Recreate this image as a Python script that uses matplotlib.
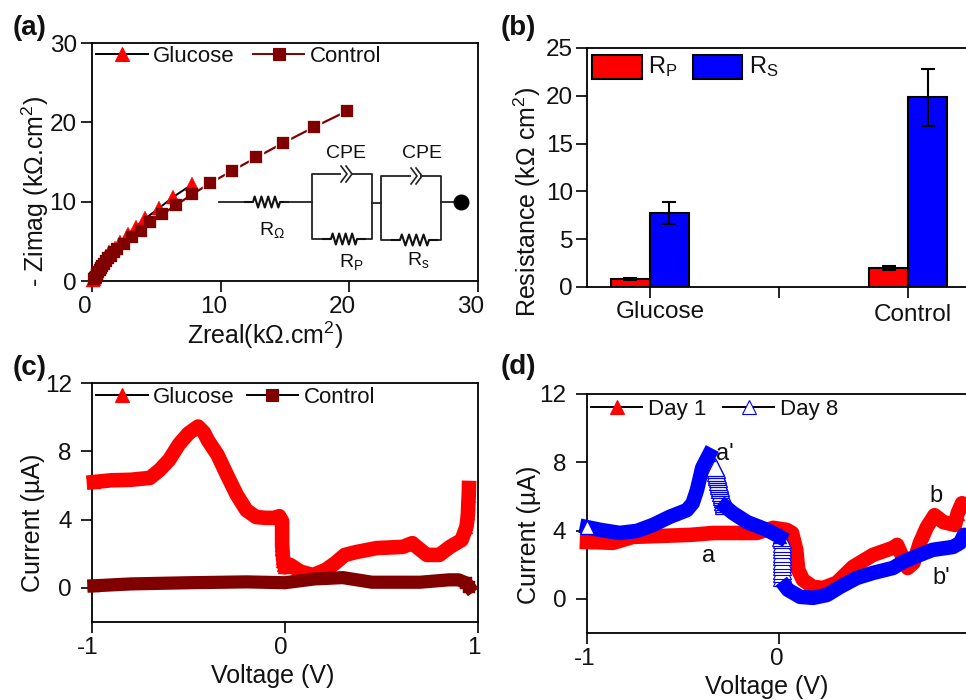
import matplotlib
matplotlib.use('Agg')
import matplotlib.pyplot as plt
from matplotlib.lines import Line2D
from matplotlib.patches import Rectangle
from matplotlib.transforms import Affine2D, ScaledTranslation

plt.rcParams['font.family'] = ['Liberation Sans', 'DejaVu Sans']
plt.rcParams['mathtext.fontset'] = 'custom'
plt.rcParams['mathtext.rm'] = 'Liberation Sans'
plt.rcParams['mathtext.default'] = 'regular'
plt.rcParams['axes.unicode_minus'] = False

# (a) impedance
a_glucose_x = [7.77, 6.32, 5.18, 4.15, 3.39, 2.8, 2.2, 1.76, 1.3, 1.05, 0.85, 0.7, 0.55, 0.42, 0.32, 0.22, 0.12, 0.05]
a_glucose_y = [12.17, 10.6, 9.15, 7.89, 6.84, 5.87, 4.95, 4.1, 3.6, 3.1, 2.6, 2.15, 1.75, 1.35, 0.95, 0.55, 0.25, 0.1]
a_control_x = [19.84, 17.25, 14.87, 12.77, 10.88, 9.2, 7.77, 6.53, 5.44, 4.53, 3.78, 3.08, 2.46, 1.94, 1.7, 1.45, 1.25,
               1.08, 0.9, 0.8, 0.7, 0.6, 0.5, 0.42, 0.35, 0.28, 0.22, 0.17]
a_control_y = [21.44, 19.39, 17.41, 15.57, 13.89, 12.34, 10.91, 9.57, 8.39, 7.39, 6.34, 5.54, 4.7, 4.03, 3.6, 3.2, 2.85,
               2.5, 2.15, 1.85, 1.6, 1.35, 1.1, 0.9, 0.7, 0.5, 0.4, 0.3]

# (b) resistance
b_groups = ['Glucose', 'Control']
b_rp = [0.8, 1.95]
b_rp_err = [0.1, 0.2]
b_rs = [7.7, 19.85]
b_rs_err = [1.15, 3.0]

# (c) CV
c_glucose_v = [-0.99, -0.9, -0.8, -0.7, -0.65, -0.6, -0.55, -0.5, -0.45, -0.42, -0.4, -0.35, -0.3, -0.25, -0.2, -0.15,
               -0.1, -0.05, -0.03, -0.015, -0.015, -0.015, -0.015, -0.015, -0.015, -0.013, -0.012, -0.01, -0.008, -0.005,
               -0.002, 0.026, 0.08, 0.145, 0.21, 0.26, 0.31, 0.37, 0.475, 0.61, 0.66, 0.69, 0.735, 0.80, 0.855, 0.915,
               0.94, 0.945, 0.948, 0.95, 0.952, 0.953]
c_glucose_i = [6.2, 6.3, 6.33, 6.44, 6.9, 7.5, 8.4, 9.05, 9.45, 9.1, 8.65, 7.8, 6.6, 5.45, 4.55, 4.15,
               4.1, 4.1, 4.2, 3.9, 3.6, 3.3, 3.0, 2.75, 2.5, 2.25, 2.0, 1.75, 1.55, 1.35,
               1.2, 1.35, 0.95, 0.75, 1.05, 1.45, 1.93, 2.1, 2.33, 2.4, 2.62, 2.33, 1.93, 1.93, 2.4, 2.8,
               3.57, 4.0, 4.4, 4.97, 5.4, 5.85]
c_control_v = [-0.99, -0.8, -0.5, -0.2, 0.0, 0.15, 0.3, 0.45, 0.7, 0.85, 0.9, 0.94, 0.955]
c_control_i = [0.12, 0.23, 0.3, 0.35, 0.3, 0.52, 0.6, 0.33, 0.33, 0.47, 0.47, 0.28, 0.05]

# (d) CV day 1 / day 8
d_day1_v = [-1.0, -0.865, -0.76, -0.604, -0.46, -0.34, -0.22, -0.115, -0.03, 0.04, 0.068, 0.09, 0.1, 0.125, 0.177, 0.23,
            0.30, 0.385, 0.49, 0.594, 0.615, 0.646, 0.67, 0.70, 0.734, 0.77, 0.81, 0.855, 0.917, 0.93, 0.953, 0.97]
d_day1_i = [3.34, 3.28, 3.63, 3.69, 3.75, 3.86, 3.86, 3.86, 4.16, 4.04, 3.86, 2.87, 1.7, 1.11, 0.7, 0.64,
            0.94, 1.87, 2.58, 2.99, 3.16, 2.4, 1.81, 2.1, 3.28, 4.2, 4.9, 4.5, 4.33, 5.0, 5.6, 5.5]
d_day8_up_v = [-1.0, -0.93, -0.83, -0.74, -0.656, -0.57, -0.48, -0.45, -0.427, -0.40, -0.365]
d_day8_up_i = [4.2, 4.04, 3.86, 3.98, 4.33, 4.8, 5.2, 5.6, 6.38, 7.67, 8.43]
d_day8_peak_v = [-0.285, -0.288, -0.291, -0.294, -0.297, -0.299, -0.302, -0.305, -0.308, -0.31, -0.313, -0.316,
                 -0.319, -0.321, -0.324, -0.327, -0.33, -0.333]
d_day8_peak_i = [5.5, 5.63, 5.76, 5.89, 6.02, 6.15, 6.28, 6.41, 6.54, 6.67, 6.8, 6.93, 7.06, 7.19, 7.32, 7.45, 7.58, 7.7]
d_day8_mid_v = [-0.28, -0.24, -0.167, -0.0625, 0.005]
d_day8_mid_i = [5.4, 5.03, 4.5, 4.04, 3.63]
d_day8_stack_v = [0.016, 0.016, 0.016, 0.016, 0.016, 0.016, 0.016, 0.016, 0.016, 0.016, 0.016, 0.016, 0.012]
d_day8_stack_i = [1.3, 1.5, 1.7, 1.9, 2.1, 2.3, 2.5, 2.7, 2.9, 3.1, 3.3, 3.5, 3.65]
d_day8_low_v = [0.035, 0.047, 0.11, 0.177, 0.25, 0.318, 0.406, 0.49, 0.594, 0.646, 0.734, 0.80, 0.906, 0.943, 0.964, 0.98]
d_day8_low_i = [0.7, 0.53, 0.12, 0.06, 0.23, 0.7, 1.23, 1.52, 1.81, 2.17, 2.58, 2.87, 3.04, 3.28, 3.75, 3.6]

RED = '#ff0000'
BLUE = '#0000ff'
DARK = '#800000'
INK = '#111111'

W, H = 966, 700
fig = plt.figure(figsize=(W / 100, H / 100), dpi=100)
pix = Affine2D().scale(1 / W, -1 / H).translate(0, 1) + fig.transFigure


def make_axes(left, right, top, bottom, ylabel_xy, xlabel_xy, ylabel, xlabel, ypad, xshift, fs=18, tick_fs=17.5):
    ax = fig.add_axes([left / W, 1 - bottom / H, (right - left) / W, (bottom - top) / H])
    ax.tick_params(length=8, width=1.2, labelsize=tick_fs, labelcolor=INK)
    ax.tick_params(axis='y', pad=ypad)
    ax.tick_params(axis='x', pad=3)
    for s in ax.spines.values():
        s.set_linewidth(1.3)
    ax.set_ylabel(ylabel, fontsize=fs, color=INK, va='center', ha='center')
    ax.yaxis.set_label_coords(*ylabel_xy, transform=pix)
    if xlabel:
        ax.set_xlabel(xlabel, fontsize=fs, color=INK, va='center', ha='center')
        ax.xaxis.set_label_coords(*xlabel_xy, transform=pix)
    ax._xshift = xshift
    return ax


def shift_xlabels(ax):
    # tick labels sit a bit left of their ticks in the figure
    off = ScaledTranslation(ax._xshift / 100, 0, fig.dpi_scale_trans)
    for lab in ax.get_xticklabels():
        lab.set_transform(lab.get_transform() + off)


def fig_line(xs, ys, lw=1.3, color='#222222', **kw):
    fig.add_artist(Line2D(xs, ys, transform=pix, lw=lw, color=color, **kw))


def legend_item(x0, x1, y, mx, marker, ms, mfc, mec, linecolor, label, tx):
    fig_line([x0, x1], [y, y], lw=1.4, color=linecolor)
    fig_line([mx], [y], marker=marker, ms=ms, mfc=mfc, mec=mec, mew=0.8, ls='none')
    fig.text(tx, y, label, transform=pix, fontsize=16, color=INK, va='center_baseline', ha='left')


def resistor(x0, x1, y, n=4, amp=5.5):
    # zigzag symbol for the circuit drawing
    step = (x1 - x0 - 16) / (2 * n)
    xs = [x0, x0 + 8]
    ys = [y, y]
    for k in range(2 * n):
        xs.append(x0 + 8 + step * (k + 0.5))
        ys.append(y - amp if k % 2 == 0 else y + amp)
    xs += [x1 - 8, x1]
    ys += [y, y]
    fig_line(xs, ys, lw=1.5, color='#111111')


def cpe(x, y):
    for dx in (0, 5):
        fig_line([x + dx - 5, x + dx + 1, x + dx - 5], [y - 8, y, y + 8], lw=1.2)


# panel (a)
ax = make_axes(92, 478, 43, 281, (35, 191), (265, 335), '- Zimag (kΩ.cm$^{2}$)', 'Zreal(kΩ.cm$^{2}$)', 3, -7)
ax.set_xlim(0, 30)
ax.set_ylim(0, 30)
ax.set_xticks([0, 10, 20, 30])
ax.set_yticks([0, 10, 20, 30])
shift_xlabels(ax)
ax.plot(a_glucose_x, a_glucose_y, '-', color='black', lw=1.4, marker='^', ms=10, mfc=RED, mec=RED, mew=0.3, clip_on=False, zorder=3)
ax.plot(a_control_x, a_control_y, '-', color=DARK, lw=1.6, clip_on=False, zorder=3)
ax.plot(a_control_x[:6], a_control_y[:6], 's', ms=10.5, mfc='white', mec='white', zorder=3)
ax.plot(a_control_x, a_control_y, 's', ms=8.2, mfc=DARK, mec=DARK, mew=0.2, clip_on=False, zorder=3)
legend_item(96, 148, 54, 122, '^', 10, RED, RED, 'black', 'Glucose', 153)
legend_item(253, 304, 54, 279, 's', 8, DARK, DARK, DARK, 'Control', 310)

# circuit inset
fig_line([219, 248], [202, 202])
resistor(245, 288, 202)
fig_line([285, 312], [202, 202])
fig_line([340, 312, 312, 325], [174, 174, 239, 239])
fig_line([352, 372, 372, 363], [174, 174, 239, 239])
resistor(323, 365, 239)
cpe(346, 174)
fig_line([372, 381], [203, 203])
fig_line([410, 381, 381, 394], [176, 176, 240, 240])
fig_line([421, 441, 441, 435], [176, 176, 240, 240])
resistor(392, 437, 240)
cpe(416, 176)
fig_line([441, 455], [202, 202])
fig_line([461], [202], marker='o', ms=10.5, color='black', ls='none')
for tx, ty, s in [(346, 152, 'CPE'), (422, 152, 'CPE'), (272, 228, 'R$_{Ω}$'), (351, 259, 'R$_{P}$'), (418, 257, 'R$_{s}$')]:
    fig.text(tx, ty, s, transform=pix, fontsize=14, color=INK, ha='center', va='center_baseline')

# panel (b)
ax = make_axes(587, 971, 48, 287, (527, 202), None, 'Resistance (kΩ cm$^{2}$)', None, 2, 0)
ax.set_xlim(0.512, 3.488)
ax.set_ylim(0, 25)
ax.set_xticks([1, 2, 3])
ax.set_xticklabels([b_groups[0], '', b_groups[1]])
ax.set_yticks([0, 5, 10, 15, 20, 25])
ax.spines['right'].set_visible(False)
b_x = [1, 3]
bw = 0.302
ekw = dict(ecolor='black', elinewidth=1.5, capsize=4.7, capthick=1.5)
ax.bar([x - bw / 2 for x in b_x], b_rp, bw, color=RED, edgecolor='black', lw=1.5, yerr=b_rp_err, error_kw=ekw)
ax.bar([x + bw / 2 for x in b_x], b_rs, bw, color=BLUE, edgecolor='black', lw=1.5, yerr=b_rs_err, error_kw=ekw)
labs = ax.get_xticklabels()
labs[0].set_transform(labs[0].get_transform() + ScaledTranslation(0.10, 0.01, fig.dpi_scale_trans))
labs[2].set_transform(labs[2].get_transform() + ScaledTranslation(0.05, -0.02, fig.dpi_scale_trans))
fig.add_artist(Rectangle((592, 55), 50, 24, transform=pix, fc=RED, ec='black', lw=1.5))
fig.add_artist(Rectangle((693, 55), 49, 24, transform=pix, fc=BLUE, ec='black', lw=1.5))
fig.text(648, 73, 'R$_{P}$', transform=pix, fontsize=17, color=INK, va='baseline')
fig.text(749, 73, 'R$_{S}$', transform=pix, fontsize=17, color=INK, va='baseline')

# panel (c)
ax = make_axes(92, 478, 383, 622, (33, 523), (273, 676), 'Current (µA)', 'Voltage (V)', 6.5, -4)
ax.set_xlim(-1, 1)
ax.set_ylim(-2, 12)
ax.set_xticks([-1, 0, 1])
ax.set_yticks([0, 4, 8, 12])
shift_xlabels(ax)
# markers only where the band shows them, the smooth stretches are just the thick line
c_marks = [0] + list(range(18, 31)) + list(range(46, 52))
ax.plot(c_glucose_v, c_glucose_i, '-', color=RED, lw=10.5, marker='^', ms=10, mfc=RED, mec=RED, mew=0.3, markevery=c_marks,
        clip_on=False, zorder=3, solid_joinstyle='round')
ax.plot(c_control_v, c_control_i, '-', color=DARK, lw=9.5, marker='s', ms=8, mfc=DARK, mec=DARK, mew=0.3, markevery=[0, 11, 12],
        clip_on=False, zorder=3)
legend_item(96, 148, 395, 122, '^', 10, RED, RED, 'black', 'Glucose', 153)
legend_item(247, 298, 395, 272, 's', 8.5, DARK, DARK, 'black', 'Control', 304)

# panel (d)
ax = make_axes(587, 971, 394, 633, (529, 535), (767, 687), 'Current (µA)', 'Voltage (V)', 7, -2)
ax.set_xlim(-1, 1)
ax.set_ylim(-2, 12)
ax.set_xticks([-1, 0, 1])
ax.set_xticklabels(['-1', '0', ''])
ax.set_yticks([0, 4, 8, 12])
ax.spines['right'].set_visible(False)
shift_xlabels(ax)
ax.plot(d_day1_v, d_day1_i, '-', color=RED, lw=10.5, marker='^', ms=10, mfc=RED, mec=RED, mew=0.3, markevery=[0, 8, 10, 20, 29, 30],
        clip_on=False, zorder=3)
ax.plot(d_day8_peak_v, d_day8_peak_i, 'none', marker='^', ms=13.5, mfc='white', mec=BLUE, mew=0.9, clip_on=False, zorder=3.2)
ax.plot(d_day8_stack_v, d_day8_stack_i, 'none', marker='^', ms=12.5, mfc='white', mec=BLUE, mew=0.8, clip_on=False, zorder=3.2)
ax.plot(d_day8_up_v, d_day8_up_i, '-', color=BLUE, lw=10.5, marker='^', ms=10, mfc=BLUE, mec=BLUE, mew=0.3, markevery=[10],
        clip_on=False, zorder=3.3)
ax.plot(d_day8_mid_v, d_day8_mid_i, '-', color=BLUE, lw=10.5, marker='^', ms=10, mfc=BLUE, mec=BLUE, mew=0.3, markevery=[4],
        clip_on=False, zorder=3.3)
ax.plot(d_day8_low_v, d_day8_low_i, '-', color=BLUE, lw=10.5, marker='^', ms=10, mfc=BLUE, mec=BLUE, mew=0.3, markevery=[14],
        clip_on=False, zorder=3.3)
ax.plot(d_day8_up_v[0], d_day8_up_i[0], '^', ms=10, mfc='white', mec=BLUE, mew=1, clip_on=False, zorder=3.4)
legend_item(591, 642, 407, 617, '^', 10, RED, RED, 'black', 'Day 1', 648)
legend_item(723, 774, 407, 749, '^', 10, 'white', BLUE, 'black', 'Day 8', 780)
for tx, ty, s in [(725, 452, "a'"), (709, 553, 'a'), (936, 493, 'b'), (941, 575, "b'")]:
    fig.text(tx, ty, s, transform=pix, fontsize=17, color=INK, ha='center', va='center_baseline')

# panel letters
for tx, ty, s in [(13, 28, '(a)'), (501, 28, '(b)'), (13, 368, '(c)'), (501, 367, '(d)')]:
    fig.text(tx, ty, s, transform=pix, fontsize=20, fontweight='bold', color=INK, ha='left', va='center')

fig.savefig('out.png', dpi=100)
